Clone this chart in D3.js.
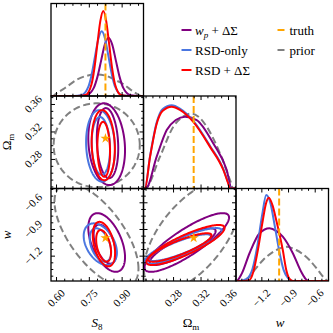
<!DOCTYPE html>
<html>
<head>
<meta charset="utf-8">
<script src="https://cdnjs.cloudflare.com/ajax/libs/d3/7.8.5/d3.min.js"></script>
<style>
body { margin: 0; background: #fff; }
svg { font-family: "Liberation Serif", "DejaVu Serif", serif; }
</style>
</head>
<body>
<div id="chart"></div>
<script>
// ---- values ----
const truthS8 = 0.826, truthOm = 0.31, truthW = -1.0;
const s8Ticks = [0.60, 0.75, 0.90];
const omTicks = [0.28, 0.32, 0.36];
const wTicks = [-1.2, -0.9, -0.6];

// 1D marginals: [parameter value, density as fraction of panel height]
const s8Prior = [[0.577,0],[0.586,0],[0.595,0.016],[0.641,0.086],[0.696,0.178],[0.737,0.216],[0.778,0.232],[0.824,0.222],[0.870,0.173],[0.907,0.13],[0.943,0.065],[0.975,0.016],[0.989,0],[1.0,0]];
const s8Wp = [[0.577,0],[0.70,0],[0.738,0.007],[0.772,0.085],[0.789,0.204],[0.806,0.38],[0.823,0.556],[0.840,0.63],[0.857,0.556],[0.874,0.38],[0.891,0.204],[0.908,0.085],[0.942,0.007],[0.98,0],[1.0,0]];
const s8Rsd = [[0.577,0],[0.68,0],[0.716,0.008],[0.747,0.095],[0.7625,0.228],[0.778,0.425],[0.7935,0.617],[0.809,0.70],[0.8245,0.617],[0.840,0.425],[0.8555,0.228],[0.871,0.095],[0.902,0.008],[0.94,0],[1.0,0]];
const s8RsdDs = [[0.577,0],[0.70,0],[0.735,0.01],[0.762,0.124],[0.7755,0.30],[0.789,0.56],[0.8025,0.81],[0.816,0.92],[0.8295,0.81],[0.843,0.56],[0.8565,0.30],[0.870,0.124],[0.897,0.01],[0.93,0],[1.0,0]];

const omPrior = [[0.237,0],[0.239,0],[0.261,0.344],[0.2804,0.668],[0.295,0.78],[0.3072,0.81],[0.318,0.77],[0.329,0.668],[0.3484,0.378],[0.3629,0.092],[0.3677,0],[0.3716,0]];
const omWp = [[0.237,0],[0.2405,0],[0.2562,0.344],[0.2708,0.632],[0.284,0.74],[0.2974,0.776],[0.3144,0.74],[0.3386,0.486],[0.3581,0.2],[0.3654,0],[0.3716,0]];
const omRsd = [[0.237,0],[0.239,0],[0.2465,0.35],[0.2562,0.715],[0.265,0.86],[0.278,0.90],[0.29,0.865],[0.3095,0.73],[0.3338,0.46],[0.3532,0.21],[0.36,0.07],[0.364,0],[0.3716,0]];
const omRsdDs = [[0.237,0],[0.239,0],[0.2465,0.34],[0.2562,0.70],[0.265,0.84],[0.278,0.884],[0.29,0.85],[0.3095,0.72],[0.3338,0.45],[0.3532,0.2],[0.36,0.06],[0.3629,0],[0.3716,0]];

const wPrior = [[-1.485,0],[-1.46,0],[-1.35,0.03],[-1.275,0.12],[-1.18,0.227],[-1.03,0.335],[-0.92,0.37],[-0.808,0.335],[-0.659,0.227],[-0.565,0.12],[-0.49,0.03],[-0.45,0],[-0.445,0]];
const wWp = [[-1.485,0],[-1.48,0],[-1.42,0.08],[-1.333,0.3],[-1.22,0.516],[-1.108,0.57],[-1.03,0.54],[-0.959,0.479],[-0.846,0.3],[-0.752,0.1],[-0.70,0.02],[-0.66,0],[-0.445,0]];
const wRsd = [[-1.485,0],[-1.45,0],[-1.37,0.02],[-1.30,0.13],[-1.245,0.38],[-1.19,0.72],[-1.145,0.93],[-1.10,0.85],[-1.05,0.6],[-1.0,0.33],[-0.95,0.12],[-0.9,0.03],[-0.85,0],[-0.445,0]];
const wRsdDs = [[-1.485,0],[-1.40,0],[-1.333,0.01],[-1.29,0.1],[-1.239,0.335],[-1.183,0.66],[-1.15,0.83],[-1.116,0.9],[-1.075,0.82],[-1.033,0.66],[-0.959,0.335],[-0.92,0.12],[-0.88,0.02],[-0.84,0],[-0.445,0]];

// 2D contours: [centre x, centre y, half extent x, half extent y, tilt (correlation)]
const s8OmPrior = [[0.786, 0.300, 0.197, 0.061, 0.0]];
const s8OmWp = [[0.8315, 0.3015, 0.084, 0.0595, -0.15], [0.8355, 0.303, 0.049, 0.051, -0.15]];
const s8OmRsd = [[0.8035, 0.299, 0.066, 0.052, -0.1], [0.805, 0.299, 0.042, 0.042, -0.1]];
const s8OmRsdDs = [[0.816, 0.300, 0.053, 0.051, -0.1], [0.818, 0.294, 0.029, 0.040, -0.1]];

const s8WPrior = [[0.785, -0.968, 0.192, 0.58, -0.65]];
const s8WWp = [[0.8315, -1.052, 0.084, 0.33, -0.5], [0.823, -1.07, 0.051, 0.22, -0.5]];
const s8WRsd = [[0.8025, -1.071, 0.076, 0.234, -0.4], [0.803, -1.08, 0.049, 0.188, -0.4]];
const s8WRsdDs = [[0.819, -1.07, 0.051, 0.25, -0.4], [0.8175, -1.09, 0.034, 0.178, -0.4]];

const omWPrior = [[0.3076, -0.979, 0.07, 0.62, 0.6]];
const omWWp = [[0.300, -1.052, 0.0615, 0.33, 0.85], [0.294, -1.099, 0.048, 0.206, 0.85]];
const omWRsd = [[0.295, -1.09, 0.056, 0.2, 0.85], [0.29, -1.11, 0.045, 0.15, 0.85]];
const omWRsdDs = [[0.298, -1.08, 0.057, 0.225, 0.85], [0.29, -1.108, 0.046, 0.16, 0.85]];

// ---- layout ----
const WIDTH = 333, HEIGHT = 333;
const COL_X = [51, 143.5, 236];
const ROW_Y = [3.5, 96, 188.5];
const SIZE = 92.5;
const MAJOR = 4, MINOR = 2.3;

const dims = [
    { domain: [0.577, 1.0], ticks: s8Ticks, minorStep: 0.0375, fmt: d3.format(".2f"), truth: truthS8 },
    { domain: [0.237, 0.3716], ticks: omTicks, minorStep: 0.01, fmt: d3.format(".2f"), truth: truthOm },
    { domain: [-1.485, -0.445], ticks: wTicks, minorStep: 0.075, fmt: d3.format(".1f"), truth: truthW }
];

const styles = {
    prior: { color: "#808080", dash: "7,3.5" },
    wp: { color: "#800080", dash: null },
    rsd: { color: "#4a76e0", dash: null },
    rsdds: { color: "#ff0000", dash: null }
};
const ORDER = ["prior", "wp", "rsd", "rsdds"];
const TRUTH_COLOR = "#ffa500";

const marginals = [
    { prior: s8Prior, wp: s8Wp, rsd: s8Rsd, rsdds: s8RsdDs },
    { prior: omPrior, wp: omWp, rsd: omRsd, rsdds: omRsdDs },
    { prior: wPrior, wp: wWp, rsd: wRsd, rsdds: wRsdDs }
];
const pairs = [
    { xi: 0, yi: 1, data: { prior: s8OmPrior, wp: s8OmWp, rsd: s8OmRsd, rsdds: s8OmRsdDs } },
    { xi: 0, yi: 2, data: { prior: s8WPrior, wp: s8WWp, rsd: s8WRsd, rsdds: s8WRsdDs } },
    { xi: 1, yi: 2, data: { prior: omWPrior, wp: omWWp, rsd: omWRsd, rsdds: omWRsdDs } }
];

function xScale(i) {
    return d3.scaleLinear().domain(dims[i].domain).range([COL_X[i], COL_X[i] + SIZE]);
}
function yScale(j) {
    return d3.scaleLinear().domain(dims[j].domain).range([ROW_Y[j] + SIZE, ROW_Y[j]]);
}
function minorTicks(d) {
    let start = d.ticks[0];
    while (start - d.minorStep > d.domain[0]) start -= d.minorStep;
    return d3.range(start, d.domain[1], d.minorStep)
        .filter(v => !d.ticks.some(t => Math.abs(t - v) < 1e-6));
}

const svg = d3.select("#chart").append("svg")
    .attr("width", WIDTH)
    .attr("height", HEIGHT);

const defs = svg.append("defs");

function panelClip(id, col, row) {
    defs.append("clipPath").attr("id", id)
        .append("rect")
        .attr("x", COL_X[col]).attr("y", ROW_Y[row])
        .attr("width", SIZE).attr("height", SIZE);
}

// ticks on all four sides, pointing inward
function drawTicks(col, row, xi, yi) {
    const g = svg.append("g");
    const x = xScale(xi);
    const dx = dims[xi];
    const top = ROW_Y[row], bottom = ROW_Y[row] + SIZE;
    const left = COL_X[col], right = COL_X[col] + SIZE;

    [[d3.axisBottom, bottom], [d3.axisTop, top]].forEach(([ax, yy]) => {
        g.append("g").attr("transform", `translate(0,${yy})`)
            .call(ax(x).tickValues(dx.ticks).tickSize(-MAJOR).tickFormat(""));
        g.append("g").attr("transform", `translate(0,${yy})`)
            .call(ax(x).tickValues(minorTicks(dx)).tickSize(-MINOR).tickFormat(""));
    });

    if (yi !== null) {
        const y = yScale(yi);
        const dy = dims[yi];
        [[d3.axisLeft, left], [d3.axisRight, right]].forEach(([ax, xx]) => {
            g.append("g").attr("transform", `translate(${xx},0)`)
                .call(ax(y).tickValues(dy.ticks).tickSize(-MAJOR).tickFormat(""));
            g.append("g").attr("transform", `translate(${xx},0)`)
                .call(ax(y).tickValues(minorTicks(dy)).tickSize(-MINOR).tickFormat(""));
        });
    }
    g.selectAll(".domain").remove();
    g.selectAll(".tick line").attr("stroke", "#000").attr("stroke-width", 1);

    svg.append("rect")
        .attr("x", left).attr("y", top)
        .attr("width", SIZE).attr("height", SIZE)
        .attr("fill", "none")
        .attr("stroke", "#000")
        .attr("stroke-width", 1.3);
}

// ---- diagonal panels ----
dims.forEach((d, i) => {
    const x = xScale(i);
    const y = d3.scaleLinear().domain([0, 1]).range([ROW_Y[i] + SIZE, ROW_Y[i]]);
    const id = "clip-d" + i;
    panelClip(id, i, i);
    const g = svg.append("g").attr("clip-path", `url(#${id})`);

    const line = d3.line()
        .x(p => x(p[0]))
        .y(p => y(p[1]))
        .curve(d3.curveMonotoneX);

    ORDER.forEach(key => {
        g.append("path")
            .datum(marginals[i][key])
            .attr("d", line)
            .attr("fill", "none")
            .attr("stroke", styles[key].color)
            .attr("stroke-width", 2)
            .attr("stroke-dasharray", styles[key].dash);
    });

    g.append("line")
        .attr("x1", x(d.truth)).attr("x2", x(d.truth))
        .attr("y1", ROW_Y[i]).attr("y2", ROW_Y[i] + SIZE)
        .attr("stroke", TRUTH_COLOR)
        .attr("stroke-width", 2)
        .attr("stroke-dasharray", "7,3");

    drawTicks(i, i, i, null);
});

// ---- 2D panels ----
function contourPoints(c) {
    const [cx, cy, sx, sy, rho] = c;
    const k = Math.sqrt(1 - rho * rho);
    return d3.range(0, 2 * Math.PI, Math.PI / 90).map(t => [
        cx + sx * Math.cos(t),
        cy + sy * (rho * Math.cos(t) + k * Math.sin(t))
    ]);
}

pairs.forEach((p, n) => {
    const x = xScale(p.xi);
    const y = yScale(p.yi);
    const id = "clip-p" + n;
    panelClip(id, p.xi, p.yi);
    const g = svg.append("g").attr("clip-path", `url(#${id})`);

    const line = d3.line()
        .x(q => x(q[0]))
        .y(q => y(q[1]))
        .curve(d3.curveLinearClosed);

    ORDER.forEach(key => {
        g.selectAll(null)
            .data(p.data[key])
            .enter()
            .append("path")
            .attr("d", c => line(contourPoints(c)))
            .attr("fill", "none")
            .attr("stroke", styles[key].color)
            .attr("stroke-width", 2)
            .attr("stroke-dasharray", styles[key].dash);
    });

    g.append("path")
        .attr("d", d3.symbol(d3.symbolStar, 32)())
        .attr("transform", `translate(${x(dims[p.xi].truth)},${y(dims[p.yi].truth)})`)
        .attr("fill", TRUTH_COLOR);

    drawTicks(p.xi, p.yi, p.xi, p.yi);
});

// ---- tick labels ----
dims.forEach((d, i) => {
    const x = xScale(i);
    d.ticks.forEach(t => {
        svg.append("text")
            .attr("transform", `translate(${x(t)},${ROW_Y[2] + SIZE + 17}) rotate(-45)`)
            .attr("text-anchor", "middle")
            .attr("dy", "0.35em")
            .attr("font-size", 11)
            .text(d.fmt(t));
    });
});
[1, 2].forEach(j => {
    const y = yScale(j);
    dims[j].ticks.forEach(t => {
        svg.append("text")
            .attr("transform", `translate(${COL_X[0] - 18},${y(t)}) rotate(-45)`)
            .attr("text-anchor", "middle")
            .attr("dy", "0.35em")
            .attr("font-size", 11)
            .text(dims[j].fmt(t));
    });
});

// ---- axis labels ----
function s8Label(t) {
    t.append("tspan").attr("font-style", "italic").text("S");
    t.append("tspan").attr("font-size", 9).attr("dy", 3).text("8");
}
function omLabel(t) {
    t.append("tspan").text("Ω");
    t.append("tspan").attr("font-size", 9).attr("dy", 3).text("m");
}
function wLabel(t) {
    t.append("tspan").attr("font-style", "italic").text("w");
}

const labelY = 327;
s8Label(svg.append("text").attr("x", 97).attr("y", labelY).attr("text-anchor", "middle").attr("font-size", 13));
omLabel(svg.append("text").attr("x", 191).attr("y", labelY).attr("text-anchor", "middle").attr("font-size", 13));
wLabel(svg.append("text").attr("x", 280).attr("y", labelY).attr("text-anchor", "middle").attr("font-size", 13));
omLabel(svg.append("text").attr("transform", "translate(11,142) rotate(-90)").attr("text-anchor", "middle").attr("font-size", 13));
wLabel(svg.append("text").attr("transform", "translate(11,235) rotate(-90)").attr("text-anchor", "middle").attr("font-size", 13));

// ---- legend ----
const legendItems = [
    { key: "wp", col: 0, row: 0 },
    { key: "rsd", col: 0, row: 1 },
    { key: "rsdds", col: 0, row: 2 },
    { key: "truth", col: 1, row: 0 },
    { key: "prior", col: 1, row: 1 }
];
const legendCols = [181.5, 277.5];
const legendRows = [30, 50, 70];
legendItems.forEach(item => {
    const lx = legendCols[item.col], ly = legendRows[item.row];
    const color = item.key === "truth" ? TRUTH_COLOR : styles[item.key].color;
    const dashed = item.key === "truth" || item.key === "prior";
    svg.append("line")
        .attr("x1", lx).attr("x2", dashed ? lx + 7 : lx + 10)
        .attr("y1", ly).attr("y2", ly)
        .attr("stroke", color)
        .attr("stroke-width", 2);
    const t = svg.append("text")
        .attr("x", dashed ? lx + 12 : lx + 13.5)
        .attr("y", ly)
        .attr("dy", "0.35em")
        .attr("font-size", 13);
    if (item.key === "wp") {
        t.append("tspan").attr("font-style", "italic").text("w");
        t.append("tspan").attr("font-style", "italic").attr("font-size", 9).attr("dy", 3).text("p");
        t.append("tspan").attr("dy", -3).text(" + ΔΣ");
    } else if (item.key === "rsd") {
        t.text("RSD-only");
    } else if (item.key === "rsdds") {
        t.text("RSD + ΔΣ");
    } else {
        t.text(item.key);
    }
});
</script>
</body>
</html>
